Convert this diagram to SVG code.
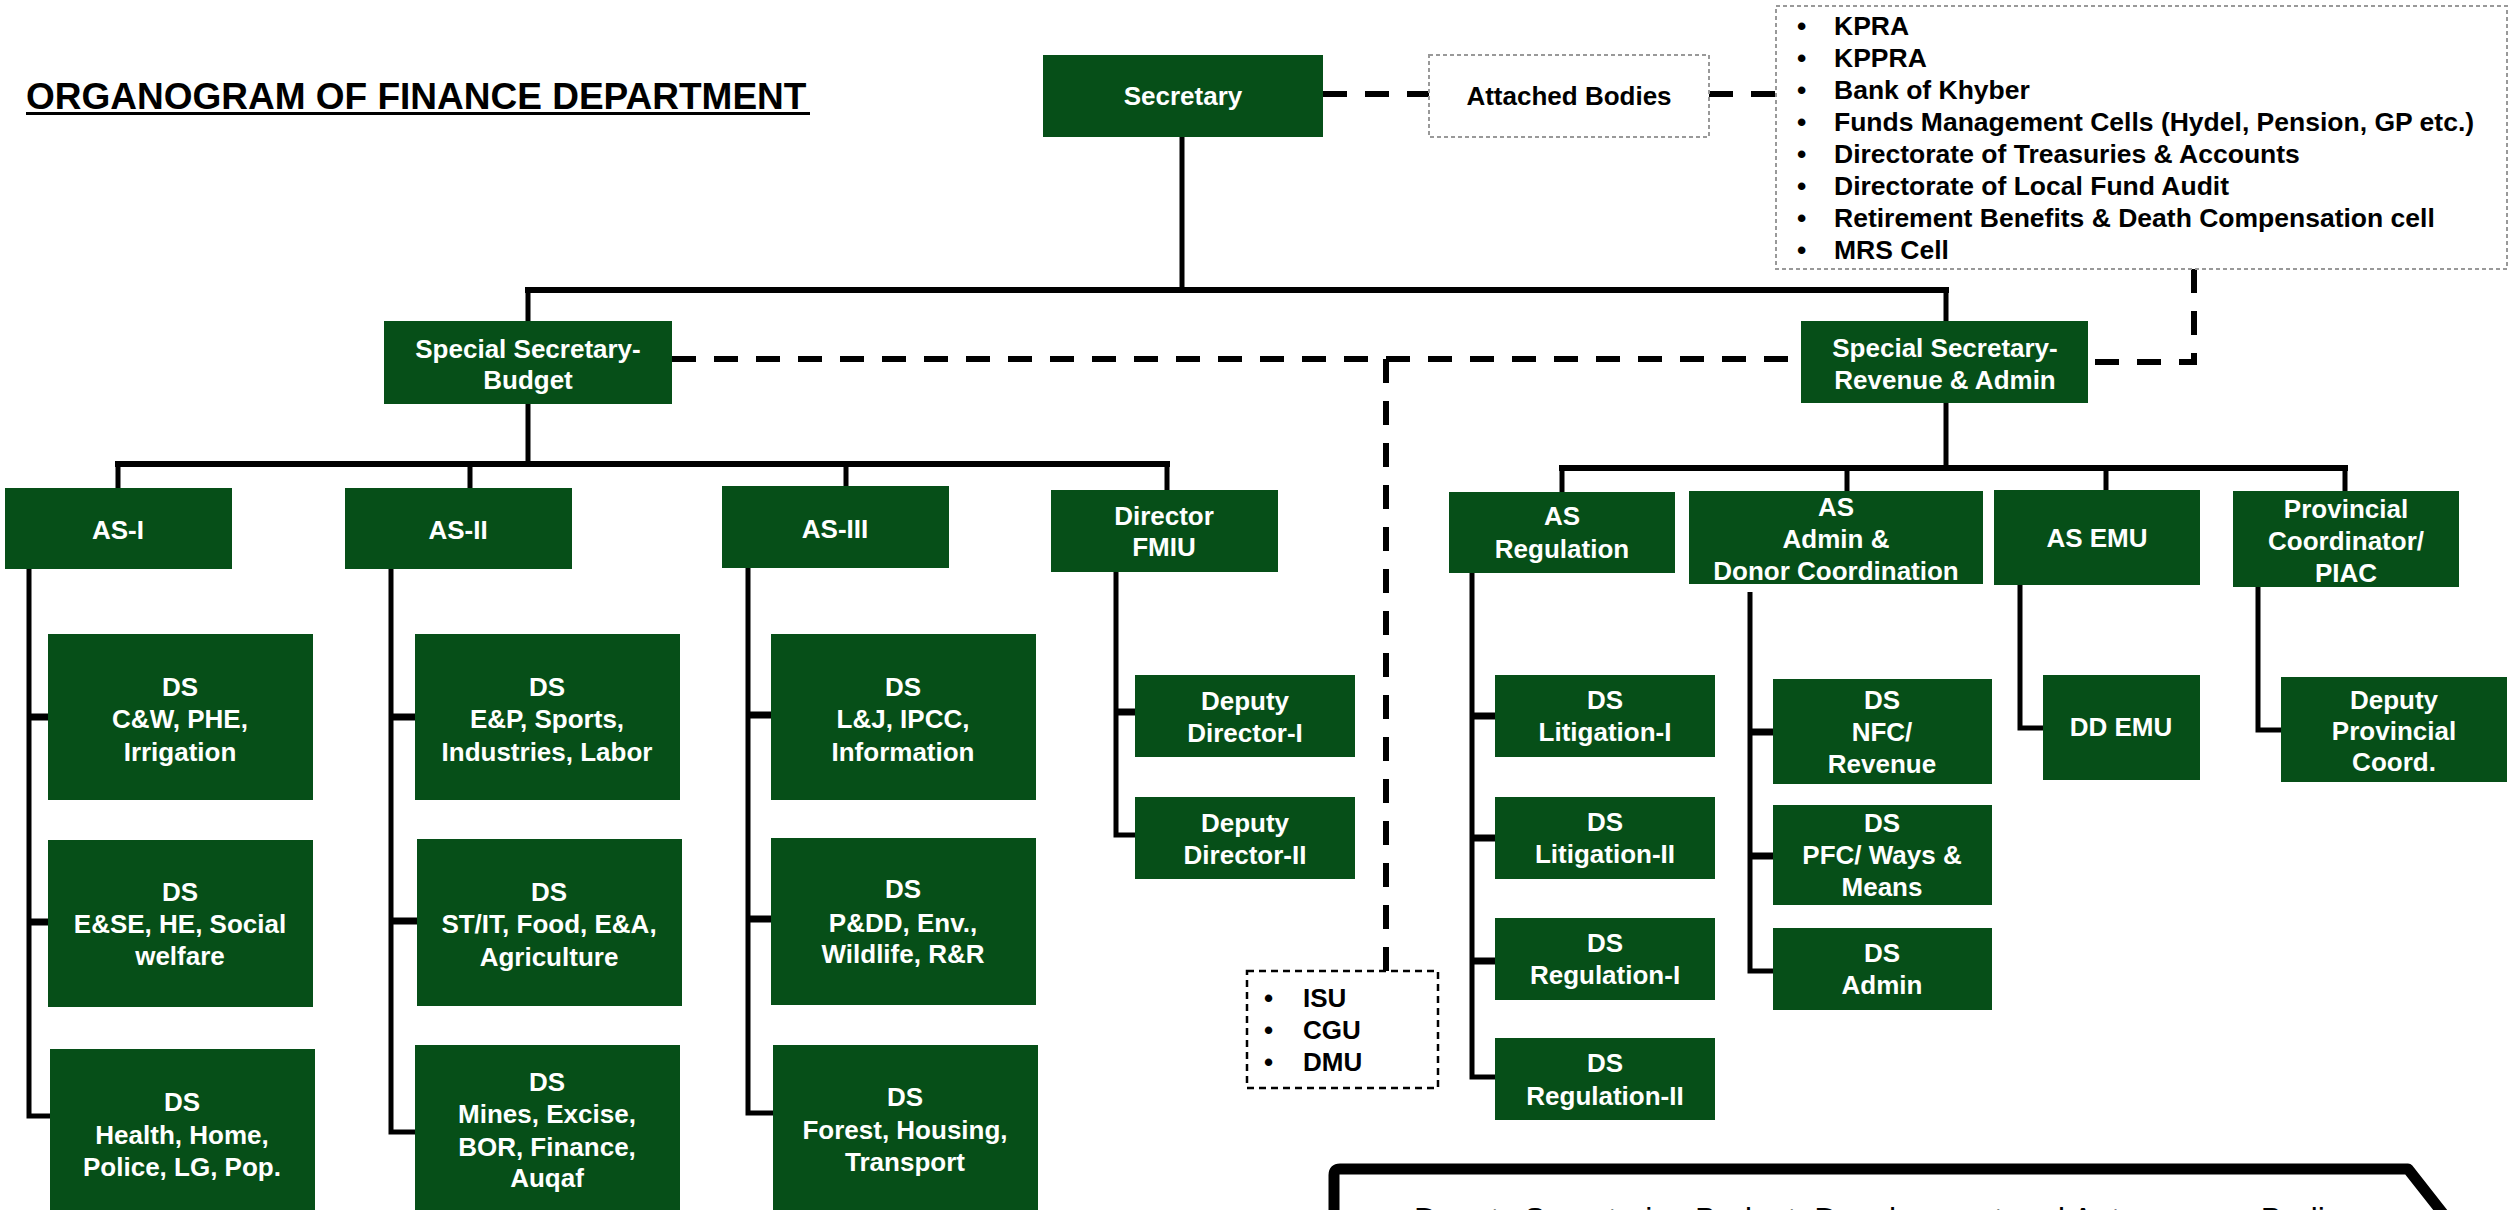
<svg xmlns="http://www.w3.org/2000/svg" width="2509" height="1210" viewBox="0 0 2509 1210">
<style>
.box{fill:#064F18}
.t{font-family:"Liberation Sans",Arial,sans-serif;font-weight:bold;font-size:26px;fill:#fff;text-anchor:middle}
.k{font-family:"Liberation Sans",Arial,sans-serif;font-weight:bold;font-size:26px;fill:#000}
.kl{font-family:"Liberation Sans",Arial,sans-serif;font-weight:bold;font-size:26.5px;fill:#000}
.ln{stroke:#000;stroke-width:5;fill:none}
.bus{stroke:#000;stroke-width:6;fill:none}
.stub{stroke:#000;stroke-width:7;fill:none}
.dash{stroke:#000;stroke-width:6;stroke-dasharray:24 18;fill:none}
.gbox{fill:#fff;stroke:#999;stroke-width:2;stroke-dasharray:4 3}
.kbox{fill:#fff;stroke:#000;stroke-width:2.5;stroke-dasharray:7 5}
</style>
<rect width="2509" height="1210" fill="#fff"/>
<g id="title">
<text x="26" y="109" font-family="Liberation Sans,Arial,sans-serif" font-weight="bold" font-size="37" fill="#000">ORGANOGRAM OF FINANCE DEPARTMENT</text>
<rect x="26" y="112" width="784" height="3" fill="#000"/>
</g>
<g id="connectors">
<path class="ln" d="M1182,137 V290"/>
<path class="bus" d="M525,290 H1949"/>
<path class="ln" d="M528,290 V321 M1946,290 V321"/>
<path class="ln" d="M528,404 V464"/>
<path class="bus" d="M115,464 H1170"/>
<path class="ln" d="M118,464 V488 M470,464 V488 M846,464 V486 M1167,464 V490"/>
<path class="ln" d="M1946,403 V468"/>
<path class="bus" d="M1559,468 H2348"/>
<path class="ln" d="M1562,468 V492 M1847,468 V491 M2106,468 V490 M2345,468 V491"/>
<path class="ln" d="M29,569 V1116 H50"/>
<path class="stub" d="M29,717 H48 M29,922 H48"/>
<path class="ln" d="M391,569 V1132 H415"/>
<path class="stub" d="M391,717 H415 M391,921 H417"/>
<path class="ln" d="M748,568 V1113 H773"/>
<path class="stub" d="M748,715 H771 M748,919 H771"/>
<path class="ln" d="M1116,572 V835 H1135"/>
<path class="stub" d="M1116,712 H1135"/>
<path class="ln" d="M1472,573 V1077 H1495"/>
<path class="stub" d="M1472,716 H1495 M1472,838 H1495 M1472,961 H1495"/>
<path class="ln" d="M1750,592 V971 H1773"/>
<path class="stub" d="M1750,732 H1773 M1750,856 H1773"/>
<path class="ln" d="M2020,584 V728 H2043"/>
<path class="ln" d="M2258,587 V730 H2281"/>
<path class="dash" d="M1323,94 H1429"/>
<path class="dash" d="M1709,94 H1776"/>
<path class="dash" d="M2194,269 V362 H2088"/>
<path class="dash" d="M672,359 H1801"/>
<path class="dash" d="M1386,359 V978"/>
</g>
<g id="secretary"><rect class="box" x="1043" y="55" width="280" height="82"/><text class="t" x="1183" y="105">Secretary</text></g>
<g id="attached-bodies"><rect class="gbox" x="1429" y="55" width="280" height="82"/><text class="k" x="1569" y="105" text-anchor="middle">Attached Bodies</text></g>
<g id="attached-list">
<rect class="gbox" x="1776" y="6" width="731" height="263"/>
<g class="kl">
<text x="1797" y="35">•</text><text x="1834" y="35">KPRA</text>
<text x="1797" y="67">•</text><text x="1834" y="67">KPPRA</text>
<text x="1797" y="99">•</text><text x="1834" y="99">Bank of Khyber</text>
<text x="1797" y="131">•</text><text x="1834" y="131">Funds Management Cells (Hydel, Pension, GP etc.)</text>
<text x="1797" y="163">•</text><text x="1834" y="163">Directorate of Treasuries &amp; Accounts</text>
<text x="1797" y="195">•</text><text x="1834" y="195">Directorate of Local Fund Audit</text>
<text x="1797" y="227">•</text><text x="1834" y="227">Retirement Benefits &amp; Death Compensation cell</text>
<text x="1797" y="259">•</text><text x="1834" y="259">MRS Cell</text>
</g>
</g>
<g id="ss-budget"><rect class="box" x="384" y="321" width="288" height="83"/><text class="t" x="528" y="358">Special Secretary-</text><text class="t" x="528" y="389">Budget</text></g>
<g id="ss-revenue"><rect class="box" x="1801" y="321" width="287" height="82"/><text class="t" x="1945" y="357">Special Secretary-</text><text class="t" x="1945" y="389">Revenue &amp; Admin</text></g>
<g id="as-1"><rect class="box" x="5" y="488" width="227" height="81"/><text class="t" x="118" y="539">AS-I</text></g>
<g id="as-2"><rect class="box" x="345" y="488" width="227" height="81"/><text class="t" x="458" y="539">AS-II</text></g>
<g id="as-3"><rect class="box" x="722" y="486" width="227" height="82"/><text class="t" x="835" y="538">AS-III</text></g>
<g id="director-fmiu"><rect class="box" x="1051" y="490" width="227" height="82"/><text class="t" x="1164" y="525">Director</text><text class="t" x="1164" y="556">FMIU</text></g>
<g id="ds-1-1"><rect class="box" x="48" y="634" width="265" height="166"/><text class="t" x="180" y="696">DS</text><text class="t" x="180" y="728">C&amp;W, PHE,</text><text class="t" x="180" y="761">Irrigation</text></g>
<g id="ds-1-2"><rect class="box" x="48" y="840" width="265" height="167"/><text class="t" x="180" y="901">DS</text><text class="t" x="180" y="933">E&amp;SE, HE, Social</text><text class="t" x="180" y="965">welfare</text></g>
<g id="ds-1-3"><rect class="box" x="50" y="1049" width="265" height="175"/><text class="t" x="182" y="1111">DS</text><text class="t" x="182" y="1144">Health, Home,</text><text class="t" x="182" y="1176">Police, LG, Pop.</text></g>
<g id="ds-2-1"><rect class="box" x="415" y="634" width="265" height="166"/><text class="t" x="547" y="696">DS</text><text class="t" x="547" y="728">E&amp;P, Sports,</text><text class="t" x="547" y="761">Industries, Labor</text></g>
<g id="ds-2-2"><rect class="box" x="417" y="839" width="265" height="167"/><text class="t" x="549" y="901">DS</text><text class="t" x="549" y="933">ST/IT, Food, E&amp;A,</text><text class="t" x="549" y="966">Agriculture</text></g>
<g id="ds-2-3"><rect class="box" x="415" y="1045" width="265" height="175"/><text class="t" x="547" y="1091">DS</text><text class="t" x="547" y="1123">Mines, Excise,</text><text class="t" x="547" y="1156">BOR, Finance,</text><text class="t" x="547" y="1187">Auqaf</text></g>
<g id="ds-3-1"><rect class="box" x="771" y="634" width="265" height="166"/><text class="t" x="903" y="696">DS</text><text class="t" x="903" y="728">L&amp;J, IPCC,</text><text class="t" x="903" y="761">Information</text></g>
<g id="ds-3-2"><rect class="box" x="771" y="838" width="265" height="167"/><text class="t" x="903" y="898">DS</text><text class="t" x="903" y="932">P&amp;DD, Env.,</text><text class="t" x="903" y="963">Wildlife, R&amp;R</text></g>
<g id="ds-3-3"><rect class="box" x="773" y="1045" width="265" height="175"/><text class="t" x="905" y="1106">DS</text><text class="t" x="905" y="1139">Forest, Housing,</text><text class="t" x="905" y="1171">Transport</text></g>
<g id="deputy-director-1"><rect class="box" x="1135" y="675" width="220" height="82"/><text class="t" x="1245" y="710">Deputy</text><text class="t" x="1245" y="742">Director-I</text></g>
<g id="deputy-director-2"><rect class="box" x="1135" y="797" width="220" height="82"/><text class="t" x="1245" y="832">Deputy</text><text class="t" x="1245" y="864">Director-II</text></g>
<g id="isu-list">
<rect class="kbox" x="1247" y="971" width="191" height="117"/>
<g class="k">
<text x="1264" y="1007">•</text><text x="1303" y="1007">ISU</text>
<text x="1264" y="1039">•</text><text x="1303" y="1039">CGU</text>
<text x="1264" y="1071">•</text><text x="1303" y="1071">DMU</text>
</g>
</g>
<g id="as-regulation"><rect class="box" x="1449" y="492" width="226" height="81"/><text class="t" x="1562" y="525">AS</text><text class="t" x="1562" y="558">Regulation</text></g>
<g id="as-admin"><rect class="box" x="1689" y="491" width="294" height="93"/><text class="t" x="1836" y="516">AS</text><text class="t" x="1836" y="548">Admin &amp;</text><text class="t" x="1836" y="580">Donor Coordination</text></g>
<g id="as-emu"><rect class="box" x="1994" y="490" width="206" height="95"/><text class="t" x="2097" y="547">AS EMU</text></g>
<g id="provincial-coordinator"><rect class="box" x="2233" y="491" width="226" height="96"/><text class="t" x="2346" y="518">Provincial</text><text class="t" x="2346" y="550">Coordinator/</text><text class="t" x="2346" y="582">PIAC</text></g>
<g id="ds-litigation-1"><rect class="box" x="1495" y="675" width="220" height="82"/><text class="t" x="1605" y="709">DS</text><text class="t" x="1605" y="741">Litigation-I</text></g>
<g id="ds-litigation-2"><rect class="box" x="1495" y="797" width="220" height="82"/><text class="t" x="1605" y="831">DS</text><text class="t" x="1605" y="863">Litigation-II</text></g>
<g id="ds-regulation-1"><rect class="box" x="1495" y="918" width="220" height="82"/><text class="t" x="1605" y="952">DS</text><text class="t" x="1605" y="984">Regulation-I</text></g>
<g id="ds-regulation-2"><rect class="box" x="1495" y="1038" width="220" height="82"/><text class="t" x="1605" y="1072">DS</text><text class="t" x="1605" y="1105">Regulation-II</text></g>
<g id="ds-nfc"><rect class="box" x="1773" y="679" width="219" height="105"/><text class="t" x="1882" y="709">DS</text><text class="t" x="1882" y="741">NFC/</text><text class="t" x="1882" y="773">Revenue</text></g>
<g id="ds-pfc"><rect class="box" x="1773" y="805" width="219" height="100"/><text class="t" x="1882" y="832">DS</text><text class="t" x="1882" y="864">PFC/ Ways &amp;</text><text class="t" x="1882" y="896">Means</text></g>
<g id="ds-admin"><rect class="box" x="1773" y="928" width="219" height="82"/><text class="t" x="1882" y="962">DS</text><text class="t" x="1882" y="994">Admin</text></g>
<g id="dd-emu"><rect class="box" x="2043" y="675" width="157" height="105"/><text class="t" x="2121" y="736">DD EMU</text></g>
<g id="deputy-provincial"><rect class="box" x="2281" y="677" width="226" height="105"/><text class="t" x="2394" y="709">Deputy</text><text class="t" x="2394" y="740">Provincial</text><text class="t" x="2394" y="771">Coord.</text></g>
<g id="note-box">
<path d="M1334,1240 V1175 Q1334,1169 1340,1169 H2408 L2452,1225" fill="none" stroke="#000" stroke-width="11" stroke-linejoin="round"/>
<text x="1414" y="1230" font-family="Liberation Sans,Arial,sans-serif" font-size="32" fill="#000">Deputy Secretaries Budget, Development and Autonomous Bodies</text>
</g>
</svg>
